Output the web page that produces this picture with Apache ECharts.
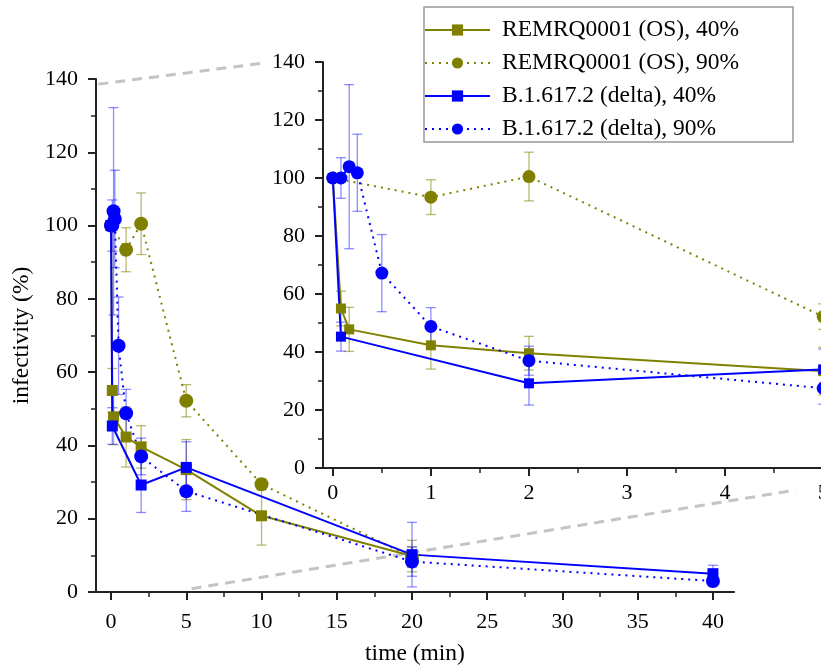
<!DOCTYPE html>
<html><head><meta charset="utf-8">
<script src="https://cdn.jsdelivr.net/npm/echarts@6/dist/echarts.min.js"></script>
<style>html,body{margin:0;padding:0;background:#fff}#c{width:821px;height:666px}</style>
</head><body><div id="c"></div>
<script>
// ---------- data ----------
const seriesNames = ['REMRQ0001 (OS), 40%', 'REMRQ0001 (OS), 90%', 'B.1.617.2 (delta), 40%', 'B.1.617.2 (delta), 90%'];

const osLowTime   = [0, 0.083, 0.167, 1, 2, 5, 10, 20];
const osLowValue  = [100, 55, 47.8, 42.3, 39.6, 33.4, 20.8, 9.8];
const osLowErr    = [0, 6, 7.6, 8.2, 5.8, 8.2, 8, 4.3];

const osHighTime  = [0, 1, 2, 5, 10, 20];
const osHighValue = [100, 93.4, 100.5, 52.2, 29.4, 9.5];
const osHighErr   = [0, 6, 8.4, 4.4, 1.5, 2.8];

const deltaLowTime  = [0, 0.083, 2, 5, 20, 40];
const deltaLowValue = [100, 45.3, 29.2, 34, 10.2, 5];
const deltaLowErr   = [0, 5, 7.5, 7, 8.8, 2.3];

const deltaHighTime  = [0, 0.083, 0.167, 0.25, 0.5, 1, 2, 5, 20, 40];
const deltaHighValue = [100, 100, 103.9, 101.8, 67.2, 48.8, 37, 27.5, 8.3, 3];
const deltaHighErr   = [0, 7, 28.3, 13.3, 13.3, 6.5, 5, 5.5, 4, 1.5];

const mainXTicks  = [0, 5, 10, 15, 20, 25, 30, 35, 40];
const mainXMinor  = [2.5, 7.5, 12.5, 17.5, 22.5, 27.5, 32.5, 37.5];
const insetXTicks = [0, 1, 2, 3, 4, 5];
const insetXMinor = [0.5, 1.5, 2.5, 3.5, 4.5];
const insetMaxTime = 5;

// zoom connector lines: [main-coordinate point, inset-coordinate point]
const zoomLinks = [
  [[-0.84, 138.6], [-0.71, 139.6]],
  [[5.35, 0.9], [4.72, -7.6]]
];

// ---------- styling ----------
const FONT = "'Liberation Serif', 'Times New Roman', serif";
const OLIVE = '#808000', BLUE = '#0000ff';
const OLIVE_ERR = 'rgba(128,128,0,0.55)', BLUE_ERR = 'rgba(0,0,255,0.45)';
const AX = '#222';

const defs = [
  {name: seriesNames[0], t: osLowTime, v: osLowValue, e: osLowErr, color: OLIVE, ecol: OLIVE_ERR, sym: 'rect', size: 11, insetSize: 10, dash: 'solid', w: 2},
  {name: seriesNames[1], t: osHighTime, v: osHighValue, e: osHighErr, color: OLIVE, ecol: OLIVE_ERR, sym: 'circle', size: 14, insetSize: 13, dash: [2, 5], w: 2},
  {name: seriesNames[2], t: deltaLowTime, v: deltaLowValue, e: deltaLowErr, color: BLUE, ecol: BLUE_ERR, sym: 'rect', size: 11, insetSize: 10, dash: 'solid', w: 2},
  {name: seriesNames[3], t: deltaHighTime, v: deltaHighValue, e: deltaHighErr, color: BLUE, ecol: BLUE_ERR, sym: 'circle', size: 14, insetSize: 13, dash: [2, 5], w: 2}
];

function makeErrRender(col) {
  return function (params, api) {
    const x = api.value(0), y = api.value(1), e = api.value(2);
    const top = api.coord([x, y + e]), bot = api.coord([x, y - e]);
    const w = 5;
    const st = {stroke: col, lineWidth: 1.3};
    return {type: 'group', children: [
      {type: 'line', shape: {x1: top[0], y1: top[1], x2: bot[0], y2: bot[1]}, style: st},
      {type: 'line', shape: {x1: top[0] - w, y1: top[1], x2: top[0] + w, y2: top[1]}, style: st},
      {type: 'line', shape: {x1: bot[0] - w, y1: bot[1], x2: bot[0] + w, y2: bot[1]}, style: st}
    ]};
  };
}

const series = [];
defs.forEach(function (d) {
  const pts = d.t.map(function (t, i) { return [t, d.v[i]]; });
  const errs = d.t.map(function (t, i) { return [t, d.v[i], d.e[i]]; }).filter(function (p) { return p[2] > 0; });
  const insetErrs = errs.filter(function (p) { return p[0] <= insetMaxTime; });
  series.push({type: 'custom', name: d.name + ' err', xAxisIndex: 0, yAxisIndex: 0, data: errs,
    renderItem: makeErrRender(d.ecol), z: 1, silent: true});
  series.push({type: 'custom', name: d.name + ' err', xAxisIndex: 2, yAxisIndex: 1, data: insetErrs,
    renderItem: makeErrRender(d.ecol), z: 1, silent: true, clip: true});
  const common = {type: 'line', name: d.name, symbol: d.sym, showSymbol: true, clip: true,
    itemStyle: {color: d.color}, lineStyle: {color: d.color, width: d.w, type: d.dash}, z: 3};
  series.push(Object.assign({}, common, {xAxisIndex: 0, yAxisIndex: 0, data: pts, symbolSize: d.size}));
  series.push(Object.assign({}, common, {xAxisIndex: 2, yAxisIndex: 1, data: pts, symbolSize: d.insetSize}));
});

const labelStyle = {color: '#000', fontFamily: FONT, fontSize: 22};
const axisLineStyle = {show: true, onZero: false, lineStyle: {color: AX, width: 2}};

const option = {
  backgroundColor: '#fff',
  animation: false,
  grid: [
    {left: 96, top: 79, width: 638, height: 513, containLabel: false, outerBoundsMode: 'none'},
    {left: 323, top: 62, width: 510, height: 406, containLabel: false, outerBoundsMode: 'none'}
  ],
  legend: {
    data: seriesNames, orient: 'vertical', left: 424, top: 7,
    itemWidth: 65, itemHeight: 14, itemGap: 9,
    padding: [11, 54, 1, 0],
    borderColor: '#999', borderWidth: 1.5, backgroundColor: '#fff',
    textStyle: {color: '#000', fontFamily: FONT, fontSize: 23.5, lineHeight: 24, padding: [0, 0, 0, 7]},
    z: 10
  },
  xAxis: [
    {type: 'value', gridIndex: 0, min: -1, max: 41.4, position: 'bottom',
      axisLine: axisLineStyle,
      axisTick: {show: true, customValues: mainXTicks, length: 8, lineStyle: {color: AX, width: 2}},
      axisLabel: Object.assign({customValues: mainXTicks, margin: 19}, labelStyle),
      splitLine: {show: false},
      name: 'time (min)', nameLocation: 'middle', nameGap: 50,
      nameTextStyle: {color: '#000', fontFamily: FONT, fontSize: 23.5}},
    {type: 'value', gridIndex: 0, min: -1, max: 41.4, position: 'bottom',
      axisLine: {show: false, onZero: false},
      axisTick: {show: true, customValues: mainXMinor, length: 5, lineStyle: {color: AX, width: 1.5}},
      axisLabel: {show: false}, splitLine: {show: false}},
    {type: 'value', gridIndex: 1, min: -0.1, max: 5.1, position: 'bottom',
      axisLine: axisLineStyle,
      axisTick: {show: true, customValues: insetXTicks, length: 8, lineStyle: {color: AX, width: 2}},
      axisLabel: Object.assign({customValues: insetXTicks, margin: 14}, labelStyle),
      splitLine: {show: false}},
    {type: 'value', gridIndex: 1, min: -0.1, max: 5.1, position: 'bottom',
      axisLine: {show: false, onZero: false},
      axisTick: {show: true, customValues: insetXMinor, length: 5, lineStyle: {color: AX, width: 1.5}},
      axisLabel: {show: false}, splitLine: {show: false}}
  ],
  yAxis: [
    {type: 'value', gridIndex: 0, min: 0, max: 140, interval: 20, position: 'left',
      axisLine: axisLineStyle,
      axisTick: {show: true, length: 8, lineStyle: {color: AX, width: 2}},
      minorTick: {show: true, splitNumber: 2, length: 5, lineStyle: {color: AX, width: 1.5}},
      axisLabel: Object.assign({margin: 18}, labelStyle),
      splitLine: {show: false}, minorSplitLine: {show: false},
      name: 'infectivity (%)', nameLocation: 'middle', nameGap: 62, nameRotate: 90,
      nameTextStyle: {color: '#000', fontFamily: FONT, fontSize: 23.5}},
    {type: 'value', gridIndex: 1, min: 0, max: 140, interval: 20, position: 'left',
      axisLine: axisLineStyle,
      axisTick: {show: true, length: 8, lineStyle: {color: AX, width: 2}},
      minorTick: {show: true, splitNumber: 2, length: 5, lineStyle: {color: AX, width: 1.5}},
      axisLabel: Object.assign({margin: 18}, labelStyle),
      splitLine: {show: false}, minorSplitLine: {show: false}}
  ],
  series: series
};

const chart = echarts.init(document.getElementById('c'), null, {renderer: 'canvas'});
chart.setOption(option);

const graphics = zoomLinks.map(function (lk) {
  const a = chart.convertToPixel({gridIndex: 0}, lk[0]);
  const b = chart.convertToPixel({gridIndex: 1}, lk[1]);
  return {type: 'line', shape: {x1: a[0], y1: a[1], x2: b[0], y2: b[1]}, z: 1,
    style: {stroke: '#c4c4c4', lineWidth: 3, lineDash: [10, 7]}};
});
chart.setOption({graphic: graphics});
</script>
</body></html>
